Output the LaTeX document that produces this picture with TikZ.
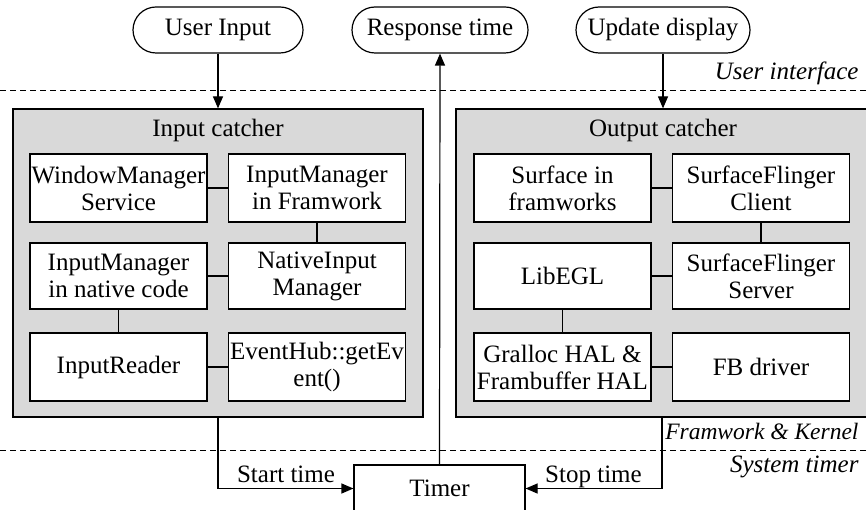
\documentclass[tikz,border=0pt]{standalone}
\usepackage{fontspec}
\setmainfont{Liberation Serif}
\usetikzlibrary{arrows.meta,shapes.misc,calc}
\definecolor{panelgray}{RGB}{217,217,217}
\begin{document}
\begin{tikzpicture}[x=1pt,y=-1pt,
  every node/.style={font=\fontsize{25}{27}\selectfont},
  terminal/.style={draw, rounded rectangle, line width=1.2pt, minimum height=46, inner sep=0},
  panel/.style={draw, fill=panelgray, line width=1.2pt, minimum width=410, minimum height=308, inner sep=0},
  block/.style={draw, fill=white, line width=1.2pt, align=center, inner sep=0, minimum width=177},
  link/.style={line width=1.2pt},
  arr/.style={line width=1.2pt, -{Triangle[length=12pt,width=10pt]}},
  layer/.style={dash pattern=on 6pt off 4pt, line width=1pt},
  layername/.style={anchor=base east, font=\fontsize{25}{27}\selectfont\itshape}
]
\useasboundingbox (0,0) rectangle (866,510);
\clip (0,0) rectangle (866,510);

% layer separators
\draw[layer] (0,91) -- (866,91);
\draw[layer] (0,450) -- (866,450);
\node[layername] at (862,80) {User interface};
\node[layername, font=\fontsize{23.5}{27}\selectfont\itshape] at (862,439) {Framwork \& Kernel};
\node[layername] at (862,472) {System timer};

% terminals
\node[terminal, minimum width=170] (ui) at (218,30) {User Input};
\node[terminal, minimum width=176] (resp) at (440,30) {Response time};
\node[terminal, minimum width=174] (upd) at (663,30) {Update display};

% input catcher
\node[panel] (inc) at (218,263) {};
\node[anchor=base] at (218,137) {Input catcher};
\node[block, minimum height=68] (wms) at (118.5,188) {WindowManager\\Service};
\node[block, minimum height=68] (imf) at (317,188) {InputManager\\in Framwork};
\node[block, minimum height=66] (imn) at (118.5,276) {InputManager\\in native code};
\node[block, minimum height=66] (nim) at (317,276) {NativeInput\\Manager};
\node[block, minimum height=68] (ird) at (118.5,367) {InputReader};
\node[block, minimum height=68] (ehub) at (317,367) {EventHub::getEv\\ent()};
\draw[link] (wms) -- (imf);
\draw[link] (imf) -- (nim);
\draw[link] (nim) -- (imn);
\draw[link] (imn) -- (ird);
\draw[link] (ird) -- (ehub);

% output catcher
\node[panel, minimum width=434] (outc) at (673,263) {};
\node[anchor=base] at (663,137) {Output catcher};
\node[block, minimum height=68] (sfw) at (562.5,188) {Surface in\\framworks};
\node[block, minimum height=68] (sfc) at (761,188) {SurfaceFlinger\\Client};
\node[block, minimum height=66] (egl) at (562.5,276) {LibEGL};
\node[block, minimum height=66] (sfs) at (761,276) {SurfaceFlinger\\Server};
\node[block, minimum height=68] (hal) at (562.5,367) {Gralloc HAL \&\\Frambuffer HAL};
\node[block, minimum height=68] (fbd) at (761,367) {FB driver};
\draw[link] (sfw) -- (sfc);
\draw[link] (sfc) -- (sfs);
\draw[link] (sfs) -- (egl);
\draw[link] (egl) -- (hal);
\draw[link] (hal) -- (fbd);

% timer
\node[draw, line width=1.2pt, minimum width=171, minimum height=47, inner sep=0] (timer) at (439.5,488.5) {Timer};

% flows
\draw[arr] (ui.south) -- (inc.north);
\draw[arr] (upd.south) -- (upd.south |- outc.north);
\draw[arr] (timer.north) -- (resp.south);
\coordinate (outtap) at (662,417);
\draw[arr] (inc.south) |- (timer.west);
\draw[arr] (outtap) |- (timer.east);
\node[anchor=base] at (286,482) {Start time};
\node[anchor=base] at (593.5,482) {Stop time};
\end{tikzpicture}
\end{document}
